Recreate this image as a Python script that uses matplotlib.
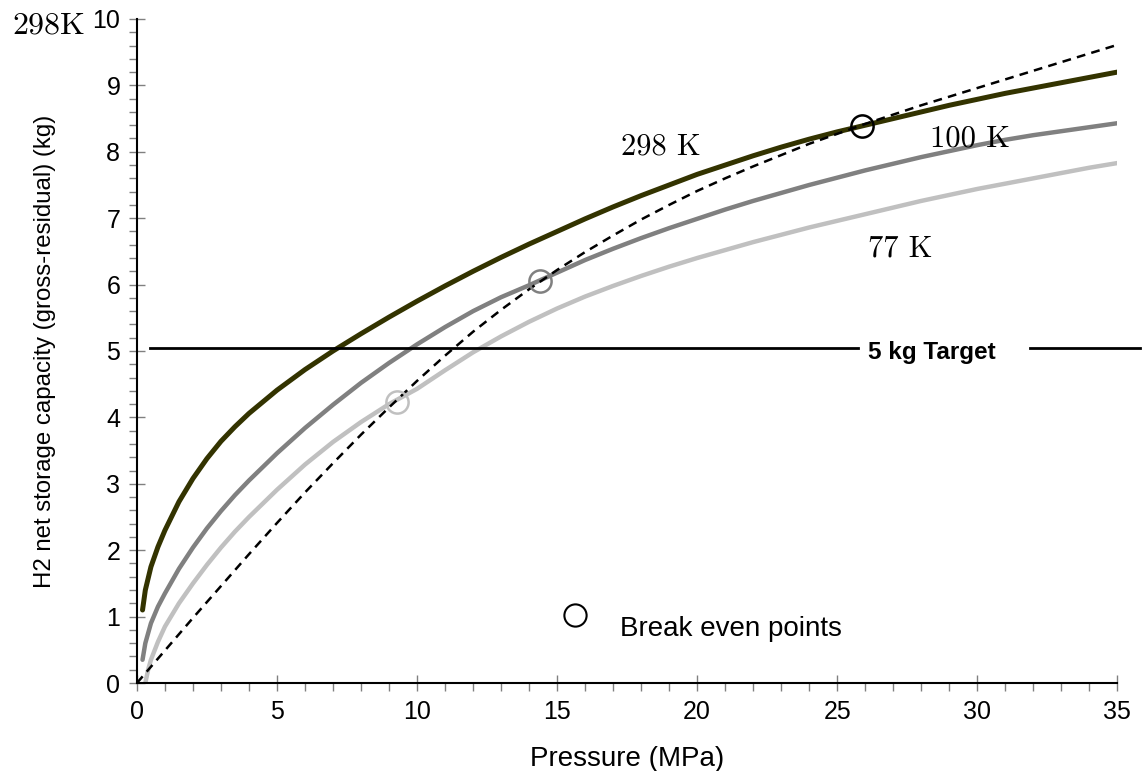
import matplotlib
matplotlib.use("Agg")
import matplotlib.pyplot as plt

# ---- data ----
x_298 = [0.2, 0.3, 0.5, 0.75, 1, 1.5, 2, 2.5, 3, 3.5, 4, 5, 6, 7, 8, 9, 10, 11, 12, 13, 14, 15, 16, 17, 18,
         19, 20, 21, 22, 23, 24, 25, 26, 27, 28, 29, 30, 31, 32, 33, 34, 35]
y_298 = [1.1, 1.4, 1.75, 2.05, 2.3, 2.73, 3.08, 3.38, 3.64, 3.86, 4.06, 4.41, 4.72, 5.0, 5.26, 5.51, 5.75, 5.98,
         6.2, 6.41, 6.61, 6.8, 6.99, 7.17, 7.34, 7.5, 7.66, 7.8, 7.94, 8.07, 8.19, 8.3, 8.4, 8.5, 8.6, 8.7,
         8.79, 8.88, 8.96, 9.04, 9.12, 9.2]

x_100 = [0.2, 0.3, 0.5, 0.75, 1, 1.5, 2, 2.5, 3, 3.5, 4, 5, 6, 7, 8, 9, 10, 11, 12, 13, 14, 15, 16, 17, 18,
         19, 20, 21, 22, 23, 24, 25, 26, 27, 28, 29, 30, 31, 32, 33, 34, 35]
y_100 = [0.35, 0.6, 0.9, 1.15, 1.35, 1.72, 2.04, 2.33, 2.59, 2.83, 3.05, 3.46, 3.84, 4.19, 4.52, 4.82, 5.1,
         5.36, 5.6, 5.81, 5.99, 6.18, 6.37, 6.54, 6.7, 6.85, 6.99, 7.13, 7.26, 7.38, 7.5, 7.61, 7.72, 7.82,
         7.92, 8.01, 8.1, 8.18, 8.25, 8.31, 8.37, 8.43]

x_77 = [0.3, 0.4, 0.5, 0.75, 1, 1.5, 2, 2.5, 3, 3.5, 4, 5, 6, 7, 8, 9, 10, 11, 12, 13, 14, 15, 16, 17, 18,
        19, 20, 21, 22, 23, 24, 25, 26, 27, 28, 29, 30, 31, 32, 33, 34, 35]
y_77 = [0.0, 0.2, 0.35, 0.62, 0.85, 1.2, 1.5, 1.78, 2.04, 2.28, 2.5, 2.91, 3.29, 3.63, 3.93, 4.2, 4.43, 4.71,
        4.98, 5.22, 5.44, 5.64, 5.82, 5.98, 6.13, 6.27, 6.4, 6.52, 6.64, 6.75, 6.86, 6.96, 7.06, 7.16, 7.26,
        7.35, 7.44, 7.52, 7.6, 7.68, 7.76, 7.83]

x_gas = [0, 1, 2, 3, 4, 5, 6, 7, 8, 9, 10, 11, 12, 13, 14, 15, 16, 17, 18, 19, 20, 21, 22, 23, 24, 25, 26,
         27, 28, 29, 30, 31, 32, 33, 34, 35]
y_gas = [0, 0.49, 0.98, 1.46, 1.94, 2.41, 2.87, 3.31, 3.74, 4.15, 4.55, 4.93, 5.29, 5.62, 5.93, 6.22, 6.49,
         6.74, 6.98, 7.2, 7.41, 7.6, 7.78, 7.95, 8.12, 8.27, 8.42, 8.56, 8.7, 8.83, 8.96, 9.09, 9.22, 9.35,
         9.48, 9.61]

# break even points (x, y, colour)
be_x = [25.9, 14.4, 9.3]
be_y = [8.39, 6.05, 4.23]
be_col = ['black', '#808080', '#c0c0c0']

# 5 kg target line, drawn in two pieces around its label
target = 5.05
target_x1 = [0.46, 25.75]
target_x2 = [31.9, 35.8]

fig = plt.figure(figsize=(11.42, 7.71), dpi=100)
ax = fig.add_axes([0.1199, 0.1141, 0.8585, 0.8613])

ax.plot(x_gas, y_gas, color='black', lw=1.8, ls=(0, (3.5, 2.5)), zorder=3)
ax.plot(x_77, y_77, color='#c0c0c0', lw=3.2, solid_capstyle='round', zorder=2)
ax.plot(x_100, y_100, color='#808080', lw=3.2, solid_capstyle='round', zorder=2)
ax.plot(x_298, y_298, color='#333300', lw=3.6, solid_capstyle='round', zorder=2)

for bx, by, bc in zip(be_x, be_y, be_col):
    ax.plot(bx, by, 'o', mfc='none', mec=bc, ms=16, mew=1.8, zorder=4)

ax.plot(target_x1, [target, target], color='black', lw=2, clip_on=False, zorder=3)
ax.plot(target_x2, [target, target], color='black', lw=2, clip_on=False, zorder=3)
ax.text(26.1, target - 0.07, '5 kg Target', fontsize=17.5, fontweight='bold',
        family='Liberation Sans', ha='left', va='center', zorder=5)

# legend-ish marker
ax.plot(15.64, 1.02, 'o', mfc='none', mec='black', ms=16, mew=1.5, clip_on=False)
ax.text(17.25, 0.82, 'Break even points', fontsize=20, family='Liberation Sans', va='center')

# curve labels
ax.text(18.7, 8.07, '298 K', family='cmr10', fontsize=22, ha='center', va='center')
ax.text(29.75, 8.2, '100 K', family='cmr10', fontsize=22, ha='center', va='center')
ax.text(27.25, 6.54, '77 K', family='cmr10', fontsize=22, ha='center', va='center')
fig.text(0.0105, 0.966, '298K', family='cmr10', fontsize=23, ha='left', va='center')

ax.set_xlim(0, 35)
ax.set_ylim(0, 10)
ax.set_xticks(range(0, 36, 5))
ax.set_yticks(range(0, 11))
ax.set_xticks([i for i in range(0, 36) if i % 5], minor=True)
ax.set_yticks([i / 5 for i in range(0, 51) if i % 5], minor=True)
for sp in ['top', 'right']:
    ax.spines[sp].set_visible(False)
for sp in ['left', 'bottom']:
    ax.spines[sp].set_linewidth(1.5)

ax.tick_params(axis='both', which='major', direction='inout', length=12, width=1,
               color='#808080', labelsize=18, pad=6)
ax.tick_params(axis='both', which='minor', direction='out', length=6, width=1, color='#808080')
for lab in ax.get_xticklabels() + ax.get_yticklabels():
    lab.set_family('Liberation Sans')

ax.set_xlabel('Pressure (MPa)', fontsize=20, family='Liberation Sans', labelpad=16)
ax.set_ylabel('H2 net storage capacity (gross-residual) (kg)', fontsize=17.3,
              family='Liberation Sans', labelpad=26)

fig.savefig('out.png', dpi=100)
